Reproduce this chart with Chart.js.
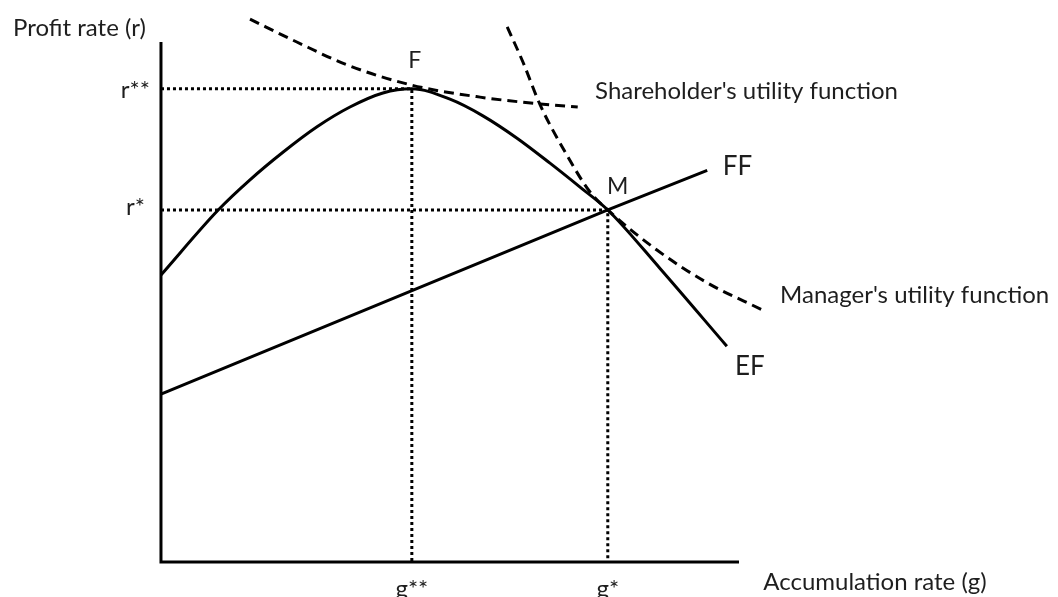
<!DOCTYPE html>
<html>
<head>
    <title>Profit rate vs accumulation rate</title>
    <script src="https://cdn.jsdelivr.net/npm/chart.js"></script>
    <style>
        html, body { margin: 0; padding: 0; background: #fff; }
        #wrap { width: 1058px; height: 597px; }
    </style>
</head>
<body>
<div id="wrap"><canvas id="firmChart"></canvas></div>

<script>
    // axis units: both axes run 0..100 inside the drawn axes
    var axisMax = 100;

    // equilibrium points
    var gStarStar = 43.4, rStarStar = 91.0;   // F
    var gStar = 77.3, rStar = 67.7;           // M

    // EF curve (solid)
    var efX = [0, 9.9, 15.4, 21.1, 27.0, 32.7, 38.4, 43.4, 50.0, 55.7, 61.6, 67.3, 72.5, 77.3, 86.3, 97.9];
    var efY = [55.2, 67.7, 73.5, 78.8, 83.7, 87.5, 90.2, 91.0, 89.0, 85.8, 81.5, 76.7, 72.1, 67.7, 56.5, 41.5];

    // FF line (solid, straight)
    var ffX = [0, 77.3, 94.5];
    var ffY = [32.3, 67.7, 75.3];

    // shareholder's utility function (dashed)
    var shX = [15.4, 23.5, 32.2, 43.4, 55.2, 65.6, 72.1];
    var shY = [104.4, 100.0, 95.6, 91.7, 89.4, 88.1, 87.5];

    // manager's utility function (dashed)
    var mgX = [59.9, 62.6, 65.6, 70.2, 74.2, 77.3, 85.8, 94.5, 104.0];
    var mgY = [102.9, 96.2, 87.9, 78.3, 71.2, 67.7, 60.0, 53.7, 48.5];

    // text
    var yTitle = 'Profit rate (r)';
    var xTitle = 'Accumulation rate (g)';
    var yTickLabels = ['r**', 'r*'];
    var xTickLabels = ['g**', 'g*'];

    function pts(xs, ys) {
        return xs.map(function (v, i) { return { x: v, y: ys[i] }; });
    }

    var ink = '#000';
    var textInk = '#1e1e1e';
    var font = 'Lato, "Open Sans", sans-serif';

    // labels placed in axis units, nudged in pixels
    var labels = [
        { text: yTitle, x: -25.6, y: 102.7, size: 24, align: 'left' },
        { text: yTickLabels[0], x: 0, y: rStarStar, dx: -11, dy: 1, size: 24, align: 'right' },
        { text: yTickLabels[1], x: 0, y: rStar, dx: -16, dy: -3, size: 24, align: 'right' },
        { text: xTickLabels[0], x: gStarStar, y: 0, dy: 27, size: 24, align: 'center' },
        { text: xTickLabels[1], x: gStar, y: 0, dy: 27, size: 24, align: 'center' },
        { text: xTitle, x: 104.2, y: 0, dy: 20, size: 24, align: 'left' },
        { text: 'F', x: gStarStar, y: rStarStar, dx: 3, dy: -28, size: 23, align: 'center' },
        { text: 'M', x: gStar, y: rStar, dx: 10, dy: -23, size: 23, align: 'center' },
        { text: 'FF', x: 97.2, y: 76.0, size: 26, align: 'left' },
        { text: 'EF', x: 99.3, y: 37.5, size: 26, align: 'left' },
        { text: "Shareholder's utility function", x: 75.1, y: 90.6, size: 24, align: 'left' },
        { text: "Manager's utility function", x: 107.1, y: 51.3, size: 24, align: 'left' }
    ];

    var textPlugin = {
        id: 'diagramText',
        afterDatasetsDraw: function (chart) {
            var ctx = chart.ctx;
            var xs = chart.scales.x, ys = chart.scales.y;
            ctx.save();
            ctx.fillStyle = textInk;
            ctx.textBaseline = 'middle';
            labels.forEach(function (l) {
                ctx.font = l.size + 'px ' + font;
                ctx.textAlign = l.align;
                ctx.fillText(l.text,
                    xs.getPixelForValue(l.x) + (l.dx || 0),
                    ys.getPixelForValue(l.y) + (l.dy || 0));
            });
            ctx.restore();
        }
    };

    var solid = { borderColor: ink, borderWidth: 3, pointRadius: 0, fill: false };

    var ctx = document.getElementById('firmChart').getContext('2d');
    var chart = new Chart(ctx, {
        type: 'line',
        data: {
            datasets: [
                Object.assign({ label: 'axes', data: pts([0, 0, axisMax], [axisMax, 0, 0]), tension: 0 }, solid),
                Object.assign({ label: 'r** / g**', data: pts([0, gStarStar, gStarStar], [rStarStar, rStarStar, 0]),
                    tension: 0, borderDash: [3, 3] }, solid),
                Object.assign({ label: 'r* / g*', data: pts([0, gStar, gStar], [rStar, rStar, 0]),
                    tension: 0, borderDash: [3, 3] }, solid),
                Object.assign({ label: 'EF', data: pts(efX, efY), cubicInterpolationMode: 'monotone' }, solid),
                Object.assign({ label: 'FF', data: pts(ffX, ffY), tension: 0 }, solid),
                Object.assign({ label: "Shareholder's utility function", data: pts(shX, shY),
                    cubicInterpolationMode: 'monotone', borderDash: [10, 6] }, solid),
                Object.assign({ label: "Manager's utility function", data: pts(mgX, mgY),
                    cubicInterpolationMode: 'monotone', borderDash: [10, 6] }, solid)
            ]
        },
        options: {
            responsive: true,
            maintainAspectRatio: false,
            animation: false,
            layout: { padding: 0 },
            plugins: {
                legend: { display: false },
                tooltip: { enabled: false }
            },
            scales: {
                x: { type: 'linear', display: false, min: -27.85, max: 155.19 },
                y: { type: 'linear', display: false, min: -6.73, max: 108.08 }
            }
        },
        plugins: [textPlugin]
    });
</script>
</body>
</html>
